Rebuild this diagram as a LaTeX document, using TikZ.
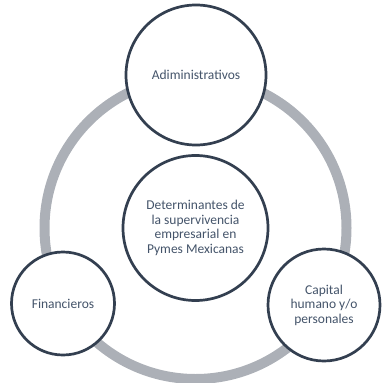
\documentclass[tikz,border=0pt]{standalone}
\usepackage{fontspec}
\setmainfont{Carlito}
\definecolor{navy}{HTML}{333F50}
\definecolor{ringgray}{HTML}{ACB0B7}
\definecolor{txt}{HTML}{44546A}
\begin{document}
\begin{tikzpicture}[x=1pt,y=-1pt,
  bubble/.style={circle,draw=navy,line width=2.7pt,fill=white,text=txt,align=center,
    font=\fontsize{13.5}{14.5}\selectfont,inner sep=0pt}]
\useasboundingbox (0,0) rectangle (381,383);
\coordinate (c) at (195.5,228);
\draw[ringgray,line width=10pt] (c) circle[radius=151];
\node[bubble,minimum size=145pt] (center) at (195.5,228) {Determinantes de\\la supervivencia\\empresarial en\\Pymes Mexicanas};
\node[bubble,minimum size=140pt] (adm) at (196,75) {Adiministrativos};
\node[bubble,minimum size=103pt] (fin) at (63,303.5) {Financieros};
\node[bubble,minimum size=112pt] (cap) at (324,305) {Capital\\humano y/o\\personales};
\end{tikzpicture}
\end{document}
